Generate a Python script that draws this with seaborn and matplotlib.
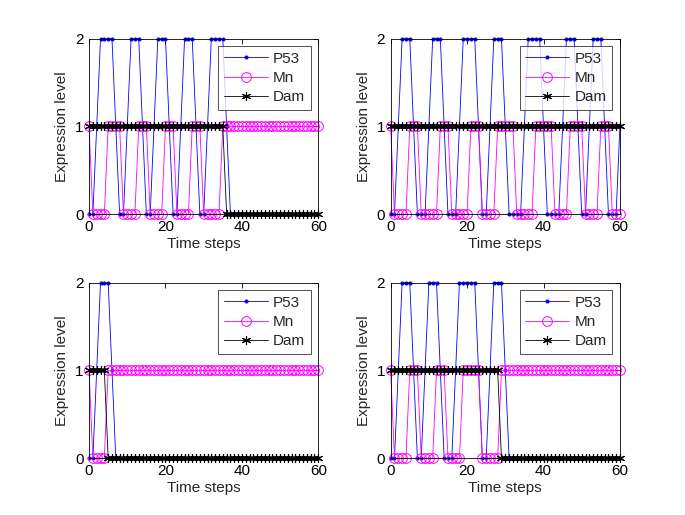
import matplotlib
matplotlib.use("Agg")
import matplotlib.pyplot as plt
import seaborn as sns

# time axis, one value per simulation step
time_steps = list(range(61))

# top left run
p53_a = [0, 0, 1, 2, 2, 2, 2, 1, 0, 0, 1, 2, 2, 2, 1, 0, 0, 1, 2, 2,
         2, 1, 0, 0, 1, 2, 2, 2, 1, 0, 0, 1, 2, 2, 2, 2, 1, 0, 0, 0,
         0, 0, 0, 0, 0, 0, 0, 0, 0, 0, 0, 0, 0, 0, 0, 0, 0, 0, 0, 0, 0]
mn_a = [1, 0, 0, 0, 0, 1, 1, 1, 1, 0, 0, 0, 0, 1, 1, 1, 0, 0, 0, 0,
        1, 1, 1, 0, 0, 0, 0, 1, 1, 1, 0, 0, 0, 0, 0, 1, 1, 1, 1, 1,
        1, 1, 1, 1, 1, 1, 1, 1, 1, 1, 1, 1, 1, 1, 1, 1, 1, 1, 1, 1, 1]
dam_a = [1, 1, 1, 1, 1, 1, 1, 1, 1, 1, 1, 1, 1, 1, 1, 1, 1, 1, 1, 1,
         1, 1, 1, 1, 1, 1, 1, 1, 1, 1, 1, 1, 1, 1, 1, 1, 0, 0, 0, 0,
         0, 0, 0, 0, 0, 0, 0, 0, 0, 0, 0, 0, 0, 0, 0, 0, 0, 0, 0, 0, 0]

# top right run
p53_b = [0, 0, 1, 2, 2, 2, 1, 0, 0, 0, 1, 2, 2, 2, 1, 0, 0, 0, 1, 2,
         2, 2, 2, 1, 0, 0, 1, 2, 2, 2, 1, 0, 0, 0, 0, 1, 2, 2, 2, 2,
         1, 0, 0, 0, 0, 1, 2, 2, 2, 1, 0, 0, 1, 2, 2, 2, 1, 0, 0, 0, 1]
mn_b = [1, 0, 0, 0, 0, 1, 1, 1, 0, 0, 0, 0, 0, 1, 1, 1, 0, 0, 0, 0,
        0, 1, 1, 1, 0, 0, 0, 0, 1, 1, 1, 1, 1, 0, 0, 0, 0, 0, 1, 1,
        1, 1, 1, 0, 0, 0, 0, 1, 1, 1, 1, 0, 0, 0, 0, 1, 1, 1, 0, 0, 0]
dam_b = [1, 1, 1, 1, 1, 1, 1, 1, 1, 1, 1, 1, 1, 1, 1, 1, 1, 1, 1, 1,
         1, 1, 1, 1, 1, 1, 1, 1, 1, 1, 1, 1, 1, 1, 1, 1, 1, 1, 1, 1,
         1, 1, 1, 1, 1, 1, 1, 1, 1, 1, 1, 1, 1, 1, 1, 1, 1, 1, 1, 1, 1]

# bottom left run
p53_c = [0, 0, 1, 2, 2, 2, 1, 0, 0, 0, 0, 0, 0, 0, 0, 0, 0, 0, 0, 0,
         0, 0, 0, 0, 0, 0, 0, 0, 0, 0, 0, 0, 0, 0, 0, 0, 0, 0, 0, 0,
         0, 0, 0, 0, 0, 0, 0, 0, 0, 0, 0, 0, 0, 0, 0, 0, 0, 0, 0, 0, 0]
mn_c = [1, 0, 0, 0, 0, 1, 1, 1, 1, 1, 1, 1, 1, 1, 1, 1, 1, 1, 1, 1,
        1, 1, 1, 1, 1, 1, 1, 1, 1, 1, 1, 1, 1, 1, 1, 1, 1, 1, 1, 1,
        1, 1, 1, 1, 1, 1, 1, 1, 1, 1, 1, 1, 1, 1, 1, 1, 1, 1, 1, 1, 1]
dam_c = [1, 1, 1, 1, 1, 0, 0, 0, 0, 0, 0, 0, 0, 0, 0, 0, 0, 0, 0, 0,
         0, 0, 0, 0, 0, 0, 0, 0, 0, 0, 0, 0, 0, 0, 0, 0, 0, 0, 0, 0,
         0, 0, 0, 0, 0, 0, 0, 0, 0, 0, 0, 0, 0, 0, 0, 0, 0, 0, 0, 0, 0]

# bottom right run
p53_d = [0, 0, 1, 2, 2, 2, 1, 0, 0, 1, 2, 2, 2, 1, 0, 0, 0, 1, 2, 2,
         2, 2, 2, 1, 0, 0, 1, 2, 2, 2, 1, 0, 0, 0, 0, 0, 0, 0, 0, 0,
         0, 0, 0, 0, 0, 0, 0, 0, 0, 0, 0, 0, 0, 0, 0, 0, 0, 0, 0, 0, 0]
mn_d = [1, 0, 0, 0, 0, 1, 1, 1, 0, 0, 0, 0, 1, 1, 1, 0, 0, 0, 0, 1,
        1, 1, 1, 1, 0, 0, 0, 0, 0, 1, 1, 1, 1, 1, 1, 1, 1, 1, 1, 1,
        1, 1, 1, 1, 1, 1, 1, 1, 1, 1, 1, 1, 1, 1, 1, 1, 1, 1, 1, 1, 1]
dam_d = [1, 1, 1, 1, 1, 1, 1, 1, 1, 1, 1, 1, 1, 1, 1, 1, 1, 1, 1, 1,
         1, 1, 1, 1, 1, 1, 1, 1, 1, 0, 0, 0, 0, 0, 0, 0, 0, 0, 0, 0,
         0, 0, 0, 0, 0, 0, 0, 0, 0, 0, 0, 0, 0, 0, 0, 0, 0, 0, 0, 0, 0]

runs = [(p53_a, mn_a, dam_a), (p53_b, mn_b, dam_b),
        (p53_c, mn_c, dam_c), (p53_d, mn_d, dam_d)]

sns.set_style("white")
plt.rcParams["font.family"] = ["Liberation Sans", "DejaVu Sans"]
plt.rcParams["axes.edgecolor"] = "black"
plt.rcParams["axes.linewidth"] = 0.6

fig = plt.figure(figsize=(6.85, 5.15), dpi=100)
# matlab style subplot positions
positions = [[0.13, 0.5838, 0.3347, 0.3412], [0.5703, 0.5838, 0.3347, 0.3412],
             [0.13, 0.11, 0.3347, 0.3412], [0.5703, 0.11, 0.3347, 0.3412]]

for pos, (p53, mn, dam) in zip(positions, runs):
    ax = fig.add_axes(pos)
    sns.lineplot(x=time_steps, y=p53, ax=ax, color="blue", linewidth=0.6,
                 marker="o", markersize=2.2, markeredgecolor="blue",
                 markerfacecolor="blue", label="P53", clip_on=False)
    sns.lineplot(x=time_steps, y=mn, ax=ax, color="magenta", linewidth=0.6,
                 marker="o", markersize=7, markeredgecolor="magenta",
                 markerfacecolor="none", markeredgewidth=0.7, label="Mn", clip_on=False)
    sns.lineplot(x=time_steps, y=dam, ax=ax, color="black", linewidth=0.6,
                 marker=(6, 2, 0), markersize=6.5, markeredgecolor="black",
                 markeredgewidth=0.8, label="Dam", clip_on=False)

    ax.set_xlim(0, 60)
    ax.set_ylim(0, 2)
    ax.set_xticks([0, 20, 40, 60])
    ax.set_yticks([0, 1, 2])
    ax.tick_params(direction="in", top=True, right=True, length=3.5, width=0.6,
                   labelsize=11, pad=4, colors="black")
    ax.set_xlabel("Time steps", fontsize=11, labelpad=2)
    ax.set_ylabel("Expression level", fontsize=11, labelpad=4)
    for s in ax.spines.values():
        s.set_color("black")

    leg = ax.legend(loc="upper right", fontsize=11, frameon=True, fancybox=False,
                    handlelength=2.9, labelspacing=0.35, borderpad=0.35,
                    handletextpad=0.35, borderaxespad=0.5)
    leg.get_frame().set_edgecolor("black")
    leg.get_frame().set_linewidth(0.6)

fig.savefig("out.png", dpi=100, facecolor="white")
